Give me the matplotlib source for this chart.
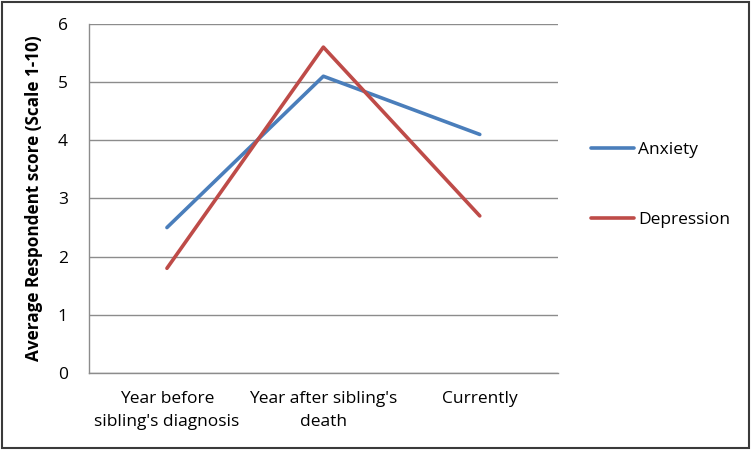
import matplotlib.pyplot as plt
from matplotlib.patches import Rectangle

plt.rcParams['font.family'] = ['Open Sans', 'DejaVu Sans']

categories = ["Year before\nsibling's diagnosis", "Year after sibling's\ndeath", "Currently"]
anxiety = [2.5, 5.1, 4.1]
depression = [1.8, 5.6, 2.7]

fig = plt.figure(figsize=(7.52, 4.5), dpi=100)
ax = fig.add_axes([0.118, 0.171, 0.624, 0.776])

x = range(len(categories))
ax.plot(x, anxiety, color='#4A7EBB', lw=2.6, label='Anxiety', solid_capstyle='round')
ax.plot(x, depression, color='#BE4B48', lw=2.6, label='Depression', solid_capstyle='round')

ax.set_xlim(-0.5, 2.5)
ax.set_ylim(0, 6)
ax.set_yticks(range(0, 7))
ax.set_xticks(list(x))
ax.set_xticklabels(categories, fontsize=12.5, linespacing=1.55)
ax.tick_params(axis='y', length=0, pad=15, labelsize=12.5)
ax.tick_params(axis='x', length=0, pad=13)
ax.yaxis.grid(True, color='#8c8c8c', lw=1)
ax.set_axisbelow(True)
for s in ['top', 'right']:
    ax.spines[s].set_visible(False)
for s in ['left', 'bottom']:
    ax.spines[s].set_color('#8c8c8c')
    ax.spines[s].set_linewidth(1)

ax.set_ylabel('Average Respondent score (Scale 1-10)', fontsize=12.3, fontweight='bold', labelpad=11)

ax.legend(loc='center left', bbox_to_anchor=(0.786, 0.589), bbox_transform=fig.transFigure,
          frameon=False, fontsize=12.5, handlelength=2.5, handletextpad=0.2,
          labelspacing=3.15, borderpad=0, borderaxespad=0)

fig.patches.append(Rectangle((0.002, 0.004), 0.994, 0.992, transform=fig.transFigure,
                             fill=False, edgecolor='#3a3a3a', lw=1.5))

fig.savefig('out.png', dpi=100)
